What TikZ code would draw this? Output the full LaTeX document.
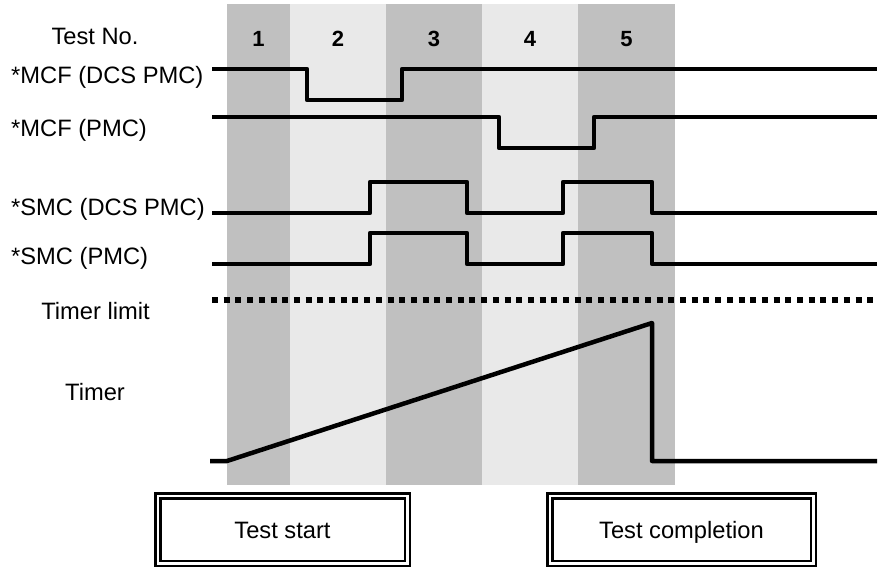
\documentclass[tikz,border=0pt]{standalone}
\usepackage{fontspec}
\setmainfont{Liberation Sans}
\begin{document}
\begin{tikzpicture}[x=1pt,y=-1pt,
  lbl/.style={inner sep=0pt,font=\fontsize{23.7}{28}\selectfont},
  numlbl/.style={inner sep=0pt,anchor=base,font=\fontsize{22}{26}\selectfont\bfseries},
  sig/.style={line width=4.5pt,line join=round,line cap=butt},
  limitline/.style={line width=5.5pt,dash pattern=on 6pt off 5.7pt},
  eventbox/.style={draw,double,line width=2.5pt,double distance=2.5pt,
    inner sep=0pt,text height=17pt,text depth=0pt,
    font=\fontsize{23.7}{28}\selectfont}]
\definecolor{colDark}{RGB}{192,192,192}
\definecolor{colLight}{RGB}{233,233,233}
\useasboundingbox (0,0) rectangle (879,567);

% test phase columns
\fill[colDark]  (227,4) rectangle (290,485);
\fill[colLight] (290,4) rectangle (386,485);
\fill[colDark]  (386,4) rectangle (482,485);
\fill[colLight] (482,4) rectangle (578,485);
\fill[colDark]  (578,4) rectangle (675,485);

% test numbers
\node[numlbl] (n1) at (258.5,47) {1};
\node[numlbl] (n2) at (338,47) {2};
\node[numlbl] (n3) at (434,47) {3};
\node[numlbl] (n4) at (530,47) {4};
\node[numlbl] (n5) at (626.5,47) {5};

% signal names
\node[lbl,anchor=base] (testno) at (95,45) {Test No.};
\node[lbl,anchor=base west] (mcfdcs) at (11,84) {*MCF (DCS PMC)};
\node[lbl,anchor=base west] (mcfpmc) at (11,137) {*MCF (PMC)};
\node[lbl,anchor=base west] (smcdcs) at (11,215) {*SMC (DCS PMC)};
\node[lbl,anchor=base west] (smcpmc) at (11,265) {*SMC (PMC)};
\node[lbl,anchor=base] (tlimit) at (95.5,319) {Timer limit};
\node[lbl,anchor=base] (timer) at (95,400) {Timer};

% signal traces
\draw[sig] (212,69) -- (307,69) -- (307,100) -- (402,100) -- (402,69) -- (877,69);
\draw[sig] (212,117) -- (499,117) -- (499,148) -- (594,148) -- (594,117) -- (877,117);
\draw[sig] (212,213) -- (370,213) -- (370,182) -- (467,182) -- (467,213)
  -- (563,213) -- (563,182) -- (652,182) -- (652,213) -- (877,213);
\draw[sig] (212,264) -- (370,264) -- (370,233) -- (467,233) -- (467,264)
  -- (563,264) -- (563,233) -- (652,233) -- (652,264) -- (877,264);
\draw[limitline] (212,300) -- (877,300);
\draw[sig] (210,461) -- (227,461) -- (652,323) -- (652,461) -- (877,461);

% start / completion markers
\node[eventbox,minimum width=249.5pt,minimum height=67.5pt] (start) at (282.5,529.5) {Test start};
\node[eventbox,minimum width=263.5pt,minimum height=67.5pt] (done) at (681.5,529.5) {Test completion};
\end{tikzpicture}
\end{document}
